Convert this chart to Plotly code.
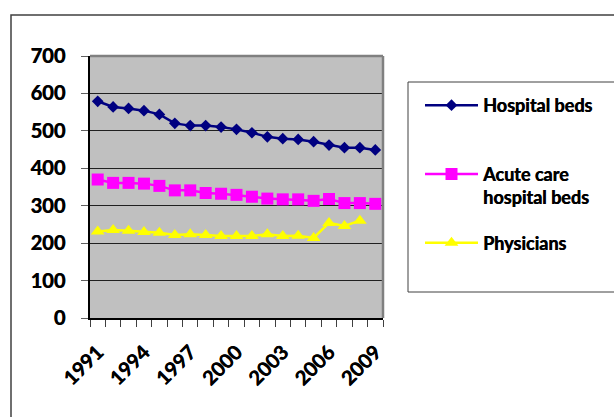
import plotly.graph_objects as go

years = list(range(1991, 2010))
hospital_beds = [579, 564, 560, 554, 544, 520, 514, 514, 510, 504, 495, 484, 479, 477, 471, 462, 455, 455, 449]
acute_care_beds = [370, 361, 361, 359, 353, 341, 341, 334, 332, 329, 324, 319, 317, 317, 313, 318, 307, 307, 305]
physicians = [231, 235, 233, 230, 228, 222, 224, 222, 219, 219, 219, 224, 219, 220, 214, 254, 246, 260]
x_ticks = [1991, 1994, 1997, 2000, 2003, 2006, 2009]
y_ticks = [0, 100, 200, 300, 400, 500, 600, 700]

FONT = "Lato"
HEAVY = "0.5px 0px 0px black"
W, H = 614, 417
L, R, T, B = 90, 231, 56, 99
PW, PH = W - L - R, H - T - B


def px_to_paper_x(px):
    return (px - L) / PW


def px_to_paper_y(py):
    return (H - B - py) / PH


fig = go.Figure()
fig.add_trace(go.Scatter(
    x=years, y=hospital_beds, name="Hospital beds<br> ", mode="lines+markers",
    line=dict(color="#000080", width=2.5),
    marker=dict(symbol="diamond", size=9, color="#000080"),
    legendgroup="a",
))
fig.add_trace(go.Scatter(
    x=years, y=acute_care_beds, name="Acute care<br>hospital beds", mode="lines+markers",
    line=dict(color="#FF00FF", width=2.5),
    marker=dict(symbol="square", size=12, color="#FF00FF"),
    legendgroup="b",
))
fig.add_trace(go.Scatter(
    x=years[:len(physicians)], y=physicians, name="Physicians", mode="lines+markers",
    line=dict(color="#FFFF00", width=2.5),
    marker=dict(symbol="triangle-up", size=12, color="#FFFF00"),
    legendgroup="c",
))

shapes = [
    # chart frame
    dict(type="rect", xref="paper", yref="paper",
         x0=px_to_paper_x(11), x1=px_to_paper_x(640),
         y0=px_to_paper_y(440), y1=px_to_paper_y(15),
         line=dict(color="#404040", width=1.5), layer="below"),
    # legend frame
    dict(type="rect", xref="paper", yref="paper",
         x0=px_to_paper_x(408), x1=px_to_paper_x(640),
         y0=px_to_paper_y(292), y1=px_to_paper_y(82),
         line=dict(color="#404040", width=1), layer="below"),
    # plot area border on top/right
    dict(type="line", xref="paper", yref="paper", x0=0, x1=1, y0=1, y1=1,
         line=dict(color="#808080", width=2.5)),
    dict(type="line", xref="paper", yref="paper", x0=1, x1=1, y0=0, y1=1,
         line=dict(color="#808080", width=2.5)),
]

bold = dict(family=FONT, size=20, color="black", weight=700, shadow=HEAVY)

fig.update_layout(
    width=W, height=H,
    margin=dict(l=L, r=R, t=T, b=B),
    paper_bgcolor="white",
    plot_bgcolor="#C0C0C0",
    font=bold,
    shapes=shapes,
    showlegend=True,
    legend=dict(
        xref="container", yref="container",
        x=(420) / W, y=1 - 87 / H, xanchor="left", yanchor="top",
        bgcolor="rgba(0,0,0,0)", borderwidth=0,
        font=dict(family=FONT, size=18, color="black", weight=700, shadow=HEAVY),
        traceorder="grouped", tracegroupgap=19, valign="top",
        itemwidth=53,
    ),
    xaxis=dict(
        range=[1990.5, 2009.5],
        tickmode="array", tickvals=x_ticks,
        ticktext=[str(v) for v in x_ticks],
        tickangle=-45, ticks="", ticklabelstandoff=13,
        tickfont=bold,
        showgrid=False, zeroline=False,
        showline=True, linecolor="black", linewidth=1.5,
        minor=dict(ticks="outside", tickmode="linear", tick0=1990.5, dtick=1,
                   ticklen=7, tickcolor="#404040", tickwidth=1, showgrid=False),
    ),
    yaxis=dict(
        range=[0, 700],
        tickmode="array", tickvals=y_ticks,
        ticktext=[str(v) for v in y_ticks],
        ticks="outside", ticklen=7, tickcolor="#606060", tickwidth=1,
        ticklabelstandoff=12,
        tickfont=bold,
        showgrid=True, gridcolor="#202020", gridwidth=1,
        zeroline=False,
        showline=True, linecolor="black", linewidth=1.5,
    ),
)

fig.write_html("out.html")
